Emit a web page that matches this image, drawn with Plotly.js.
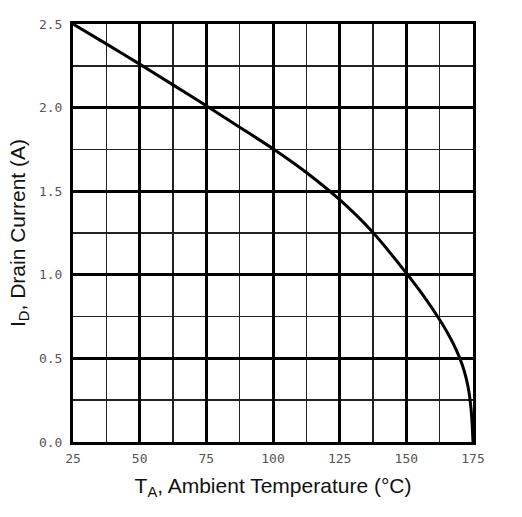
<!DOCTYPE html>
<html>
<head>
<meta charset="utf-8">
<script src="https://cdn.plot.ly/plotly-3.0.1.min.js"></script>
<style>html,body{margin:0;padding:0;background:#fff;}#chart{width:522px;height:517px;}</style>
</head>
<body>
<div id="chart"></div>
<script>
// Ambient temperature (°C) and drain current (A)
var temperature = [25, 37.5, 50, 62.5, 75, 87.5, 100, 112.5, 125, 137.5, 150, 156, 162.5, 166, 169, 171, 172.5, 173.5, 174.3, 174.7, 175];
var drainCurrent = [2.50, 2.381, 2.260, 2.136, 2.011, 1.883, 1.754, 1.612, 1.449, 1.253, 1.010, 0.884, 0.731, 0.637, 0.541, 0.461, 0.378, 0.298, 0.194, 0.102, 0.0];
var xTicks = [25, 50, 75, 100, 125, 150, 175];
var yTicks = [0, 0.5, 1.0, 1.5, 2.0, 2.5];
var yTickText = ['0.0', '0.5', '1.0', '1.5', '2.0', '2.5'];

var trace = {
  x: temperature,
  y: drainCurrent,
  type: 'scatter',
  mode: 'lines',
  line: {color: '#000', width: 3, shape: 'spline', smoothing: 0.6},
  hoverinfo: 'skip'
};

var tickFont = {family: 'DejaVu Sans Mono, monospace', size: 13, color: '#555'};
var titleFont = {family: 'Liberation Sans, Arial, sans-serif', size: 21, color: '#111'};

var layout = {
  width: 522,
  height: 517,
  margin: {l: 73, r: 49, t: 24, b: 75},
  paper_bgcolor: '#fff',
  plot_bgcolor: '#fff',
  showlegend: false,
  xaxis: {
    range: [25, 175],
    tickvals: xTicks,
    ticktext: xTicks.map(String),
    ticks: '',
    ticklabelstandoff: 2,
    tickfont: tickFont,
    showgrid: true,
    gridcolor: '#000',
    gridwidth: 3,
    minor: {dtick: 12.5, tick0: 25, showgrid: true, gridcolor: '#222', gridwidth: 1.6, ticks: ''},
    showline: true,
    linecolor: '#000',
    linewidth: 3,
    mirror: true,
    zeroline: false,
    fixedrange: true,
    title: {text: 'T<sub>A</sub>, Ambient Temperature (°C)', font: titleFont, standoff: 14}
  },
  yaxis: {
    range: [0, 2.5],
    tickvals: yTicks,
    ticktext: yTickText,
    ticks: '',
    ticklabelstandoff: 5,
    tickfont: tickFont,
    showgrid: true,
    gridcolor: '#000',
    gridwidth: 3,
    minor: {dtick: 0.25, tick0: 0, showgrid: true, gridcolor: '#222', gridwidth: 1.6, ticks: ''},
    showline: true,
    linecolor: '#000',
    linewidth: 3,
    mirror: true,
    zeroline: false,
    fixedrange: true,
    title: {text: 'I<sub>D</sub>, Drain Current (A)', font: titleFont, standoff: 8}
  }
};

Plotly.newPlot('chart', [trace], layout, {displayModeBar: false, staticPlot: true});
</script>
</body>
</html>
